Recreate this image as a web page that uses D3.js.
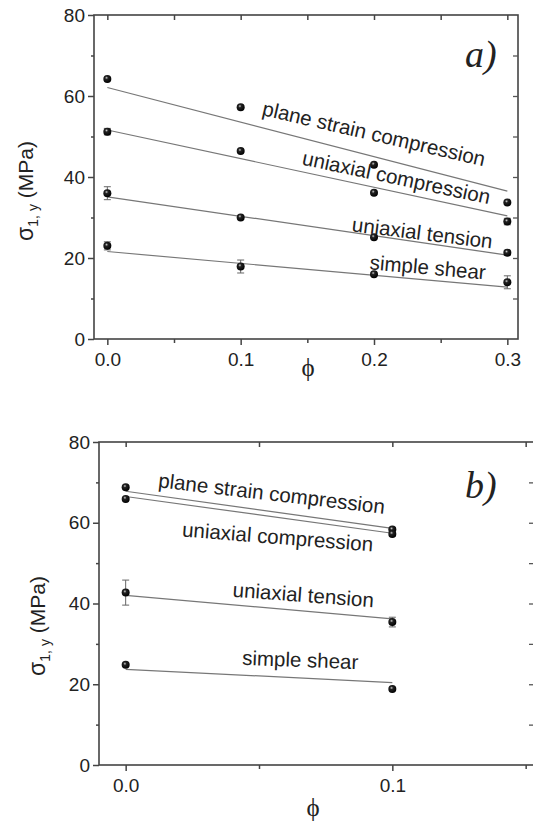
<!DOCTYPE html>
<html>
<head>
<meta charset="utf-8">
<script src="https://cdn.jsdelivr.net/npm/d3@7"></script>
<style>
  body { margin: 0; background: #fff; }
  svg { display: block; }
  text { font-family: "Liberation Sans", Arial, sans-serif; fill: #222; }
</style>
</head>
<body>
<svg id="chart"></svg>
<script>
// Chart size
const width = 533;
const height = 823;

// Series names (same four loading cases in both panels)
const seriesNames = ["plane strain compression", "uniaxial compression", "uniaxial tension", "simple shear"];

// Panel a) data
const phiA = [0.0, 0.1, 0.2, 0.3];
const sigmaA = [
    [64.2, 57.2, 43.0, 33.7],
    [51.2, 46.4, 36.1, 29.0],
    [36.0, 30.0, 25.1, 21.3],
    [23.0, 17.9, 16.0, 14.0]
];
const errA = [
    [0, 0, 0, 0],
    [0.8, 0, 0, 0.8],
    [1.6, 0, 0, 0.6],
    [1.0, 1.6, 0, 1.6]
];
// model lines, value at phi = 0 and phi = 0.3
const modelPhiA = [0.0, 0.3];
const modelA = [
    [62.1, 36.5],
    [51.6, 30.4],
    [35.1, 20.7],
    [21.6, 12.8]
];

// Panel b) data
const phiB = [0.0, 0.1];
const sigmaB = [
    [68.8, 58.3],
    [65.9, 57.2],
    [42.7, 35.4],
    [24.8, 18.8]
];
const errB = [
    [0, 0.5],
    [0, 0.5],
    [3.1, 1.2],
    [0, 0]
];
const modelPhiB = [0.0, 0.1];
const modelB = [
    [67.8, 58.6],
    [66.5, 57.4],
    [42.0, 36.2],
    [23.7, 20.4]
];

// Y ticks
const yTicks = [0, 20, 40, 60, 80];

const svg = d3.select("#chart")
    .attr("width", width)
    .attr("height", height);

// shaded ball marker
const grad = svg.append("defs").append("radialGradient")
    .attr("id", "ball")
    .attr("cx", "40%").attr("cy", "35%").attr("r", "65%");
grad.append("stop").attr("offset", "0%").attr("stop-color", "#ccc");
grad.append("stop").attr("offset", "30%").attr("stop-color", "#222");
grad.append("stop").attr("offset", "100%").attr("stop-color", "#000");

function drawPanel(p) {
    const x = d3.scaleLinear().domain(p.xDomain).range([p.left, p.right]);
    const y = d3.scaleLinear().domain([0, 80]).range([p.bottom, p.top]);
    const g = svg.append("g");

    // frame
    g.append("rect")
        .attr("x", p.left).attr("y", p.top)
        .attr("width", p.right - p.left).attr("height", p.bottom - p.top)
        .attr("fill", "none").attr("stroke", "#444").attr("stroke-width", 1.6);

    // axes
    const yMinor = d3.range(10, 80, 20);
    g.append("g").attr("transform", `translate(${p.left},0)`)
        .call(d3.axisLeft(y).tickValues(yTicks).tickSize(6).tickPadding(3))
        .call(a => a.select(".domain").remove())
        .call(a => a.selectAll("line").attr("stroke", "#444").attr("stroke-width", 1.5))
        .call(a => a.selectAll("text").style("font-size", "19px").attr("fill", "#222")
            .style("font-family", "\"Liberation Sans\", Arial, sans-serif"));
    g.append("g").attr("transform", `translate(${p.left},0)`)
        .call(d3.axisLeft(y).tickValues(yMinor).tickSize(3).tickFormat(""))
        .call(a => a.select(".domain").remove())
        .call(a => a.selectAll("line").attr("stroke", "#444").attr("stroke-width", 1.5));
    g.append("g").attr("transform", `translate(${p.right},0)`)
        .call(d3.axisLeft(y).tickValues(d3.range(10, 80, 10)).tickSize(p.rightTick).tickFormat(""))
        .call(a => a.select(".domain").remove())
        .call(a => a.selectAll("line").attr("stroke", "#555").attr("stroke-width", 1.3));

    g.append("g").attr("transform", `translate(0,${p.bottom})`)
        .call(d3.axisBottom(x).tickValues(p.xTicks).tickSize(6).tickPadding(8).tickFormat(d3.format(".1f")))
        .call(a => a.select(".domain").remove())
        .call(a => a.selectAll("line").attr("stroke", "#444").attr("stroke-width", 1.5))
        .call(a => a.selectAll("text").style("font-size", "19px").attr("fill", "#222")
            .style("font-family", "\"Liberation Sans\", Arial, sans-serif"));
    g.append("g").attr("transform", `translate(0,${p.bottom})`)
        .call(d3.axisBottom(x).tickValues(p.xMinor).tickSize(4).tickFormat(""))
        .call(a => a.select(".domain").remove())
        .call(a => a.selectAll("line").attr("stroke", "#444").attr("stroke-width", 1.5));
    g.append("g").attr("transform", `translate(0,${p.top})`)
        .call(d3.axisTop(x).tickValues(p.xTicks.concat(p.xMinor)).tickSize(-5).tickFormat(""))
        .call(a => a.select(".domain").remove())
        .call(a => a.selectAll("line").attr("stroke", "#444").attr("stroke-width", 1.5));

    // model lines
    const line = d3.line().x(d => x(d[0])).y(d => y(d[1]));
    p.model.forEach(m => {
        g.append("path")
            .attr("d", line(p.modelPhi.map((v, i) => [v, m[i]])))
            .attr("fill", "none").attr("stroke", "#777").attr("stroke-width", 1.2);
    });

    // error bars and points
    p.sigma.forEach((s, si) => {
        s.forEach((v, i) => {
            const e = p.err[si][i];
            if (e > 0) {
                const cx = x(p.phi[i]);
                g.append("line").attr("x1", cx).attr("x2", cx).attr("y1", y(v - e)).attr("y2", y(v + e))
                    .attr("stroke", "#666").attr("stroke-width", 1);
                [v - e, v + e].forEach(w => {
                    g.append("line").attr("x1", cx - 3.5).attr("x2", cx + 3.5).attr("y1", y(w)).attr("y2", y(w))
                        .attr("stroke", "#666").attr("stroke-width", 1);
                });
            }
        });
        g.selectAll(null).data(s).enter().append("circle")
            .attr("cx", (d, i) => x(p.phi[i]))
            .attr("cy", d => y(d))
            .attr("r", 4)
            .attr("fill", "url(#ball)");
    });

    // curve labels
    p.labels.forEach((l, i) => {
        g.append("text")
            .attr("transform", `translate(${x(l[0])},${y(l[1])}) rotate(${l[2]})`)
            .style("font-size", "20.5px")
            .attr("fill", "#111")
            .text(seriesNames[i]);
    });

    // panel letter
    g.append("text")
        .attr("x", p.letterPos[0]).attr("y", p.letterPos[1])
        .style("font-family", "\"Liberation Serif\", \"Times New Roman\", serif")
        .style("font-style", "italic")
        .style("font-size", "38px")
        .attr("fill", "#111")
        .text(p.letter);

    // axis titles
    const yt = g.append("text")
        .attr("transform", `translate(${p.yTitle[0]},${p.yTitle[1]}) rotate(-90)`)
        .attr("text-anchor", "middle")
        .style("font-size", "21px")
        .attr("fill", "#222");
    yt.append("tspan").style("font-size", "23px").text("σ");
    yt.append("tspan").attr("dy", 5).style("font-size", "14px").text("1, y");
    yt.append("tspan").attr("dy", -5).text(" (MPa)");

    g.append("text")
        .attr("x", p.xTitle[0]).attr("y", p.xTitle[1])
        .attr("text-anchor", "middle")
        .style("font-family", "\"Liberation Serif\", \"Times New Roman\", serif")
        .style("font-size", "25px")
        .attr("fill", "#222")
        .text("ϕ");
}

drawPanel({
    left: 94, right: 518, top: 15, bottom: 339,
    xDomain: [-0.01, 0.308],
    xTicks: [0, 0.1, 0.2, 0.3],
    xMinor: [0.05, 0.15, 0.25],
    rightTick: 5,
    phi: phiA, sigma: sigmaA, err: errA,
    modelPhi: modelPhiA, model: modelA,
    // label anchor in data units [phi, sigma, angle]
    labels: [[0.1155, 55.3, 13.0], [0.1455, 43.1, 12.0], [0.183, 26.6, 7.0], [0.1965, 17.2, 5.0]],
    letter: "a)", letterPos: [465, 67],
    yTitle: [33, 191], xTitle: [308, 376]
});

drawPanel({
    left: 99, right: 535, top: 442, bottom: 765,
    xDomain: [-0.01, 0.1535],
    xTicks: [0, 0.1],
    xMinor: [0.05, 0.15],
    rightTick: 6,
    phi: phiB, sigma: sigmaB, err: errB,
    modelPhi: modelPhiB, model: modelB,
    labels: [[0.012, 68.8, 6.7], [0.021, 56.6, 4.5], [0.04, 41.7, 4.3], [0.0436, 24.8, 2.1]],
    letter: "b)", letterPos: [465, 498],
    yTitle: [45, 626], xTitle: [313, 816]
});
</script>
</body>
</html>
